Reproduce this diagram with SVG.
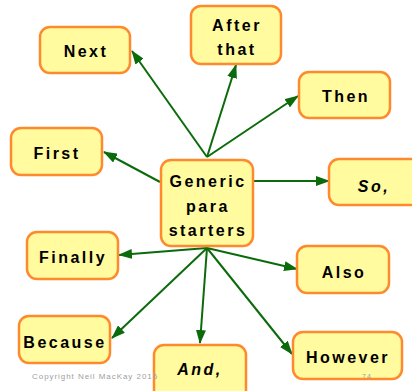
<svg xmlns="http://www.w3.org/2000/svg" width="412" height="391" viewBox="0 0 412 391">
  <style>
    .box { fill: #FFFB9E; stroke: #FF8A2E; stroke-width: 2.5; }
    .lbl { font-family: "Liberation Sans", Arial, sans-serif; font-weight: bold; font-size: 16px; letter-spacing: 2.5px; fill: #000; text-anchor: middle; }
    .it { font-style: italic; }
    .link { stroke: #0B6B0B; stroke-width: 2; fill: none; marker-end: url(#head); }
    .note { font-family: "Liberation Sans", Arial, sans-serif; fill: #A0A0A0; }
  </style>
  <defs>
    <marker id="head" markerUnits="userSpaceOnUse" markerWidth="14" markerHeight="10" refX="13" refY="5" orient="auto">
      <path d="M0,0 L14,5 L0,10 Z" fill="#0B6B0B"/>
    </marker>
  </defs>
  <rect width="412" height="391" fill="#fff"/>

  <g id="connectors">
    <line class="link" x1="207" y1="157" x2="132" y2="51"/>
    <line class="link" x1="207" y1="157" x2="236" y2="65"/>
    <line class="link" x1="207" y1="157" x2="298" y2="96"/>
    <line class="link" x1="160" y1="182" x2="104" y2="152"/>
    <line class="link" x1="253" y1="181" x2="329" y2="181"/>
    <line class="link" x1="207" y1="248" x2="119" y2="255"/>
    <line class="link" x1="207" y1="248" x2="112" y2="338"/>
    <line class="link" x1="207" y1="248" x2="200" y2="343"/>
    <line class="link" x1="207" y1="248" x2="297" y2="269"/>
    <line class="link" x1="207" y1="248" x2="292" y2="354"/>
  </g>

  <g id="next">
    <rect class="box" x="40" y="27" width="90" height="46" rx="10"/>
    <text class="lbl" x="86" y="57">Next</text>
  </g>
  <g id="after-that">
    <rect class="box" x="191" y="6" width="90" height="58" rx="10"/>
    <text class="lbl" x="237" y="31">After</text>
    <text class="lbl" x="237" y="55">that</text>
  </g>
  <g id="then">
    <rect class="box" x="299" y="72" width="91" height="46" rx="10"/>
    <text class="lbl" x="346" y="102">Then</text>
  </g>
  <g id="first">
    <rect class="box" x="11" y="128" width="91" height="47" rx="10"/>
    <text class="lbl" x="57" y="159">First</text>
  </g>
  <g id="generic">
    <rect class="box" x="161" y="160" width="92" height="86" rx="10"/>
    <text class="lbl" x="208" y="187">Generic</text>
    <text class="lbl" x="208" y="212">para</text>
    <text class="lbl" x="208" y="236">starters</text>
  </g>
  <g id="so">
    <rect class="box" x="329" y="159" width="95" height="46" rx="10"/>
    <text class="lbl it" x="374" y="192">So,</text>
  </g>
  <g id="finally">
    <rect class="box" x="27" y="232" width="91" height="47" rx="10"/>
    <text class="lbl" x="73" y="263">Finally</text>
  </g>
  <g id="also">
    <rect class="box" x="297" y="246" width="92" height="47" rx="10"/>
    <text class="lbl" x="344" y="278">Also</text>
  </g>
  <g id="because">
    <rect class="box" x="19" y="316" width="91" height="47" rx="10"/>
    <text class="lbl" x="65" y="348">Because</text>
  </g>
  <g id="and">
    <rect class="box" x="154" y="345" width="92" height="56" rx="10"/>
    <text class="lbl it" x="200" y="375">And,</text>
  </g>
  <g id="however">
    <rect class="box" x="293" y="332" width="109" height="47" rx="10"/>
    <text class="lbl" x="348" y="363">However</text>
  </g>

  <text class="note" x="32" y="379" font-size="8" letter-spacing="0.95">Copyright Neil MacKay 2016</text>
  <text class="note" x="362" y="379" font-size="7" letter-spacing="1">74</text>
</svg>
